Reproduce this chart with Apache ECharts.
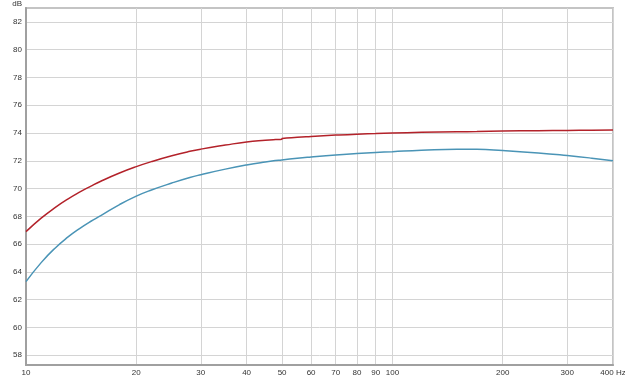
<!DOCTYPE html>
<html>
<head>
<meta charset="utf-8">
<script src="https://cdn.jsdelivr.net/npm/echarts@6/dist/echarts.min.js"></script>
<style>html,body{margin:0;padding:0;background:#fff;}#c{width:625px;height:379px;}</style>
</head>
<body>
<div id="c"></div>
<script>
const freqs = [10, 11, 12, 13, 14, 15, 16, 18, 20, 22, 25, 28, 30, 35, 40, 45, 48, 49.9, 50, 55, 60, 70, 80, 90, 100, 120, 150, 170, 200, 250, 300, 350, 400];
const redDb = [66.9, 67.87, 68.63, 69.24, 69.74, 70.16, 70.53, 71.12, 71.58, 71.94, 72.36, 72.68, 72.84, 73.13, 73.36, 73.48, 73.53, 73.55, 73.6, 73.69, 73.75, 73.85, 73.92, 73.96, 74.0, 74.05, 74.09, 74.11, 74.14, 74.17, 74.19, 74.2, 74.21];
const blueDb = [63.3, 64.67, 65.71, 66.5, 67.12, 67.63, 68.05, 68.85, 69.46, 69.9, 70.4, 70.8, 71.0, 71.4, 71.7, 71.92, 72.02, 72.06, 72.08, 72.19, 72.28, 72.42, 72.52, 72.6, 72.66, 72.76, 72.84, 72.83, 72.74, 72.57, 72.38, 72.19, 72.0];
const xTicks = [10, 20, 30, 40, 50, 60, 70, 80, 90, 100, 200, 300, 400];
const yTicks = [58, 60, 62, 64, 66, 68, 70, 72, 74, 76, 78, 80, 82];

const chart = echarts.init(document.getElementById('c'), null, {renderer: 'canvas'});
const txt = {color: '#333', fontSize: 8, fontFamily: 'Liberation Sans'};
chart.setOption({
  animation: false,
  backgroundColor: '#fff',
  grid: {left: 26, right: 12, top: 8, bottom: 14, outerBoundsMode: 'none', containLabel: false,
         show: true, borderColor: '#c4c4c4', borderWidth: 2, backgroundColor: '#fff'},
  xAxis: {
    type: 'log', logBase: 10, min: 10, max: 400,
    axisLine: {show: true, onZero: false, lineStyle: {color: '#a0a0a0', width: 2}},
    axisTick: {show: false, customValues: xTicks},
    axisLabel: Object.assign({customValues: xTicks, margin: 4, showMinLabel: true, showMaxLabel: true, hideOverlap: false,
      formatter: v => (Math.abs(v - 400) < 1e-6 ? '400 Hz' : String(Math.round(v)))}, txt),
    splitLine: {show: true, lineStyle: {color: '#d4d4d4', width: 1}},
    minorSplitLine: {show: false}
  },
  yAxis: {
    type: 'value', min: 57.3, max: 83.0,
    name: 'dB', nameLocation: 'end', nameGap: 0,
    nameTextStyle: Object.assign({align: 'right', verticalAlign: 'bottom', padding: [0, 4, 0, 0]}, txt),
    axisLine: {show: true, lineStyle: {color: '#a0a0a0', width: 2}},
    axisTick: {show: false, customValues: yTicks},
    axisLabel: Object.assign({customValues: yTicks, margin: 4}, txt),
    splitLine: {show: true, lineStyle: {color: '#d4d4d4', width: 1}}
  },
  series: [
    {type: 'line', data: freqs.map((f, i) => [f, blueDb[i]]), showSymbol: false, smooth: 0.5,
     lineStyle: {color: '#4a94b6', width: 1.5}, itemStyle: {color: '#4a94b6'}},
    {type: 'line', data: freqs.map((f, i) => [f, redDb[i]]), showSymbol: false, smooth: 0.5,
     lineStyle: {color: '#b3222a', width: 1.5}, itemStyle: {color: '#b3222a'}}
  ]
});
</script>
</body>
</html>
